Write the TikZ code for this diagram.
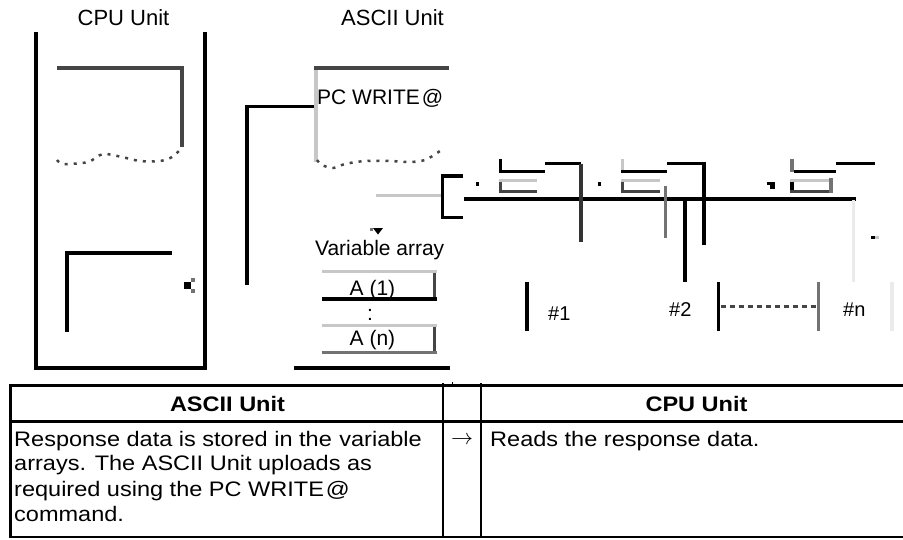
\documentclass[tikz,border=0pt]{standalone}
\usepackage{graphicx}
\usepackage{fontspec}
\setmainfont{Liberation Sans}
\newfontfamily\tabfont{Liberation Sans}[FakeStretch=1.12]
\definecolor{dg}{gray}{0.27}
\definecolor{mg}{gray}{0.45}
\definecolor{lg}{gray}{0.78}
\definecolor{vlg}{gray}{0.92}
\tikzset{
  lbl/.style={font=\fontsize{21}{25}\selectfont, inner sep=0pt},
  tlbl/.style={font=\tabfont\fontsize{21}{25}\selectfont, inner sep=0pt, anchor=base west},
  thd/.style={font=\tabfont\bfseries\fontsize{21}{25}\selectfont, inner sep=0pt, anchor=base},
  tl/.style={line width=2.8pt, black},
  wave/.style={dg, line width=2.5pt, dash pattern=on 3pt off 6pt},
}
\begin{document}
\begin{tikzpicture}[x=1pt,y=-1pt]
\useasboundingbox[fill=white] (0,0) rectangle (903,539);

% top labels
\node[lbl, anchor=base, font=\fontsize{22}{25}\selectfont] (cpu) at (123.5,25) {CPU Unit};
\node[lbl, anchor=base, font=\fontsize{22}{25}\selectfont] (ascii) at (392.5,25) {ASCII Unit};

% CPU unit box
\draw[black, line width=4pt] (36.3,31.7) -- (36.3,368) -- (205,368) -- (205,31.7);
\draw[dg, line width=3.5pt] (57.3,68) -- (182,68) -- (182,146.7);
\draw[wave] plot[smooth] coordinates {(57,160) (64,164) (88,162) (103,154) (122,157) (140,161) (160,161) (172,157) (182,148)};
\draw[black, line width=3.5pt] (67,331.7) -- (67,252.8) -- (171.7,252.8);
\fill[black] (184,282) rectangle (191,289);
\fill[mg] (191,278) rectangle (195,282);
\fill[mg] (191,289) rectangle (195,293);

% link CPU -> ASCII
\draw[black, line width=3.5pt] (247.2,285) -- (247.2,106.7) -- (316,106.7);

% ASCII unit document
\draw[lg, line width=3.5pt] (316,70) -- (316,161.7);
\draw[dg, line width=3.5pt] (314,68) -- (449,68);
\node[lbl, anchor=base west] (pcw) at (317,104) {PC WRITE\hspace{2pt}@};
\draw[wave] plot[smooth] coordinates {(317,160) (322,165) (333,168) (345,164) (365,161) (390,161) (410,162) (425,160) (437,153) (444,148)};

% connector to bus
\draw[lg, line width=3pt] (376,195) -- (442,195);
\draw[black, line width=3.3pt] (463.3,176) -- (442.7,176) -- (442.7,217.7) -- (463.3,217.7);
\draw[black, line width=3.3pt] (464.3,199) -- (855.7,199);

% small dots
\fill[black] (476,181.7) rectangle (479,185.7);
\fill[black] (598,181.7) rectangle (601.3,185.7);
\fill[black] (767,181.7) rectangle (775,185);
\fill[black] (770,185) rectangle (775,189);

% unit 1 fragment
\draw[black, line width=3pt] (500.3,159.3) -- (500.3,171.7) -- (545,171.7);
\draw[lg, line width=3pt] (499,180) -- (536.7,180);
\draw[dg, line width=3pt] (500.3,181.7) -- (500.3,191) -- (536.7,191);
\draw[black, line width=3.5pt] (545,163.5) -- (581,163.5);
\draw[black!80, line width=3.5pt] (581,163.5) -- (581,241.7);

% unit 2 fragment
\draw[lg, line width=3pt] (622.7,159) -- (622.7,172);
\draw[black, line width=3pt] (621,171.7) -- (666.7,171.7);
\draw[lg, line width=3pt] (621,180) -- (660,180);
\draw[dg, line width=3pt] (622.7,181.7) -- (622.7,191) -- (660,191);
\draw[mg, line width=2.7pt] (665.5,186) -- (665.5,238);
\draw[black, line width=3.5pt] (667,163.5) -- (704,163.5) -- (704,245);
\draw[black, line width=3.3pt] (685,200) -- (685,281.7);

% unit n fragment
\draw[mg, line width=3.5pt] (792,159) -- (792,172);
\draw[black, line width=3pt] (794,171.7) -- (836,171.7);
\draw[lg, line width=3pt] (790,180) -- (832.7,180);
\draw[black, line width=3.5pt] (792,181.7) -- (792,191);
\draw[dg, line width=3pt] (790,191) -- (830,191);
\draw[mg, line width=3.5pt] (831,178) -- (831,192.7);
\draw[black, line width=3.5pt] (836,163.5) -- (875,163.5);
\draw[vlg, line width=3.5pt] (853.7,200) -- (853.7,281.7);
\fill[black] (871,236) rectangle (875,239);
\fill[lg] (875,236) rectangle (879,239);

% unit row
\draw[black, line width=3.5pt] (527,282.3) -- (527,331);
\draw[black, line width=3.5pt] (718.7,282.3) -- (718.7,331);
\draw[mg, line width=3.5pt] (818.7,282.3) -- (818.7,331);
\draw[vlg, line width=3.5pt] (892,282.3) -- (892,331);
\draw[dg, line width=3.3pt, dash pattern=on 5pt off 4pt] (720.7,306.7) -- (816.7,306.7);
\node[lbl, anchor=base west, font=\fontsize{20}{24}\selectfont] (n1) at (548,320) {\#1};
\node[lbl, anchor=base west, font=\fontsize{20}{24}\selectfont] (n2) at (669,316) {\#2};
\node[lbl, anchor=base west, font=\fontsize{20}{24}\selectfont] (nn) at (843,316) {\#n};

% arrowhead fragment
\fill[black] (373,228) -- (383,228) -- (378,234.5) -- cycle;
\fill[mg] (370,227.7) rectangle (373,230.5);

% variable array
\node[lbl, anchor=base] (va) at (379.7,255) {Variable array};
\draw[lg, line width=3pt] (321.7,271.7) -- (436.7,271.7);
\draw[dg, line width=3.5pt] (434.5,273) -- (434.5,298.3);
\draw[black, line width=3.3pt] (321.7,299) -- (436.7,299);
\node[lbl, anchor=base] (a1) at (372.5,295) {A (1)};
\node[lbl, anchor=base] (vd) at (370,320) {:};
\draw[lg, line width=3pt] (321.7,325.7) -- (436.7,325.7);
\draw[dg, line width=3.5pt] (434.5,327) -- (434.5,353);
\draw[mg, line width=3.3pt] (321.7,352.3) -- (436.7,352.3);
\node[lbl, anchor=base] (an) at (372.5,345.6) {A (n)};
\draw[black, line width=3.8pt] (294.3,368) -- (450,368);

% table
\draw[tl] (8.9,385.5) -- (903,385.5);
\draw[tl] (8.9,421.5) -- (903,421.5);
\draw[tl] (8.9,537) -- (903,537);
\draw[black, line width=3.6pt] (10.3,384) -- (10.3,538.4);
\draw[tl] (443,383) -- (443,537);
\draw[tl] (481,383) -- (481,537);
\draw[black, line width=0.8pt] (452,381.5) -- (452,385);
\node[thd] (h1) at (227.5,411) {ASCII Unit};
\node[thd] (h2) at (696.5,411) {CPU Unit};
\node[tlbl] (t1) at (14,446) {Response data is stored in the\hspace{1pt} variable};
\node[tlbl] (t2) at (14,470.7) {arrays. The ASCII Unit uploads as};
\node[tlbl] (t3) at (14,496) {required using the PC WRITE\hspace{2pt}@};
\node[tlbl] (t4) at (14,521.7) {command.};
\node[inner sep=0pt] (ar) at (462,440) {\resizebox{22pt}{!}{$\rightarrow$}};
\node[tlbl] (r1) at (490,446) {Reads the response data.};
\end{tikzpicture}
\end{document}
